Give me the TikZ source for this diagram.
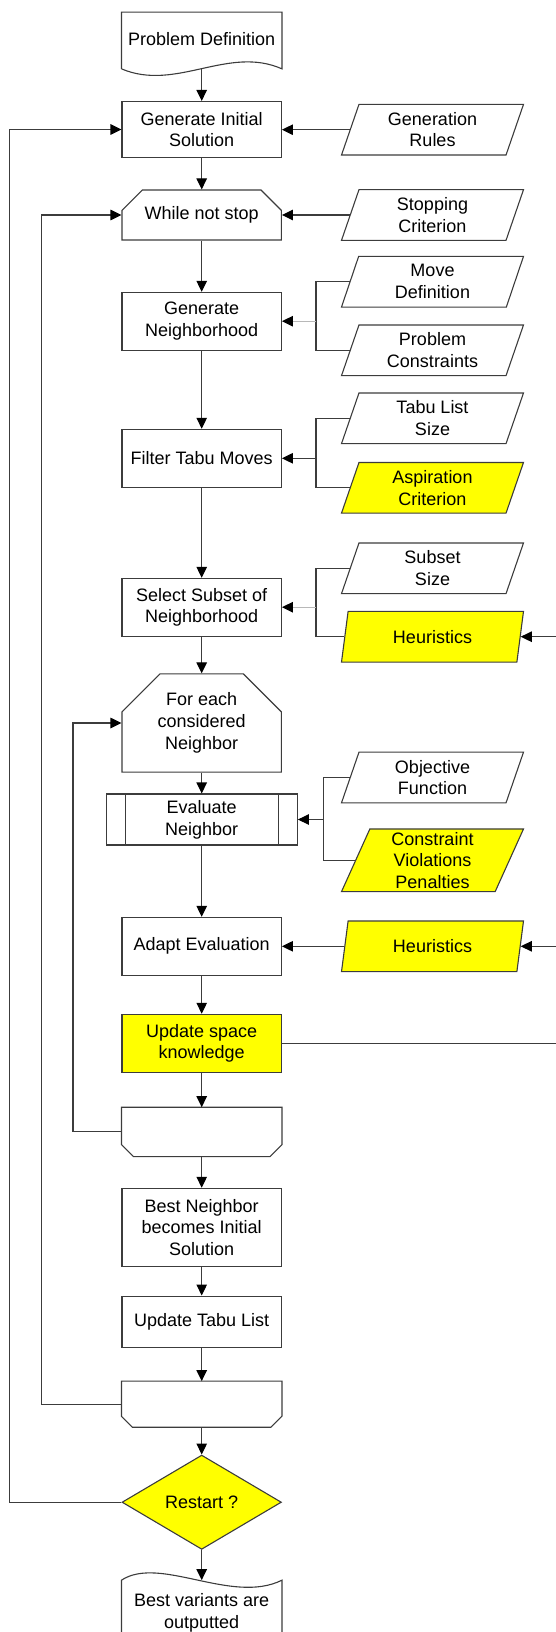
\documentclass[tikz,border=0pt]{standalone}
\usepackage{fontspec}
\setmainfont{Liberation Sans}
\usepackage{tikz}
\usetikzlibrary{arrows.meta}
\usetikzlibrary{shapes.geometric}
\usetikzlibrary{shapes.misc}
\definecolor{edgegray}{HTML}{3C3C3C}
\definecolor{paleline}{HTML}{B8B8B8}
\definecolor{hotyellow}{HTML}{FFFF00}
\tikzset {
  x=1pt, y=-1pt,
  % every box of the flow chart
  base/.style = {draw=edgegray, line width=1.1pt, align=center, inner sep=0pt,
    font=\fontsize{18pt}{21.7pt}\selectfont},
  process/.style = {base, rectangle, minimum width=159.4pt},
  % loop start, the loop end outline is drawn by hand
  loopstart/.style = {base, chamfered rectangle,
    chamfered rectangle corners={north west, north east}, minimum width=159.4pt},
  loopend/.style = {base, draw=none, rectangle, minimum width=159.4pt},
  % inputs on the right
  data/.style = {base, trapezium, trapezium left angle=63.4, trapezium right angle=116.6,
    trapezium stretches body=true, minimum width=182pt, minimum height=50.7pt},
  decision/.style = {base, diamond, minimum width=159.4pt, minimum height=94.3pt},
  % outline of the document shapes is drawn by hand
  docu/.style = {base, draw=none, rectangle, minimum width=159.4pt},
  hot/.style = {fill=hotyellow},
  % connectors
  flow/.style = {draw=edgegray, line width=1.1pt, -{Triangle[length=11pt, width=10.5pt, color=black]}},
  pale/.style = {draw=paleline, line width=1.1pt, -{Triangle[length=11pt, width=10.5pt, color=black]}},
  bus/.style = {draw=edgegray, line width=1.1pt},
}
\begin{document}
\begin{tikzpicture}
  \useasboundingbox (0,0) rectangle (556,1632);
  \clip (0,0) rectangle (556,1632);

  % main column
  \node[docu, minimum height=55.6pt] (pd) at (201.7,40.5) {\raisebox{4pt}{Problem Definition}};
  \draw[bus] (pd.south west) -- (pd.north west) -- (pd.north east) -- (pd.south east)
    .. controls (228,45) and (176,92) .. (pd.south west);
  \node[process, minimum height=56pt] (gi) at (201.7,129.5) {Generate Initial\\Solution};
  \node[loopstart, minimum height=50pt, chamfered rectangle sep=12pt] (wh) at (201.7,215) {While not stop};
  \node[process, minimum height=57.7pt] (gn) at (201.7,321.2) {Generate\\Neighborhood};
  \node[process, minimum height=58pt] (ft) at (201.7,458.3) {Filter Tabu Moves};
  \node[process, minimum height=57.7pt] (se) at (201.7,607.2) {Select Subset of\\Neighborhood};
  \node[loopstart, minimum height=79.4pt, chamfered rectangle sep=19pt] (fe) at (201.7,723) {For each\\considered\\Neighbor};
  \node[process, minimum width=191.3pt, minimum height=51pt] (ev) at (201.7,819.5) {Evaluate\\Neighbor};
  \draw[bus] ([xshift=19.7pt]ev.north west) -- ([xshift=19.7pt]ev.south west);
  \draw[bus] ([xshift=-19.7pt]ev.north east) -- ([xshift=-19.7pt]ev.south east);
  \node[process, minimum height=57.7pt] (ad) at (201.7,946.2) {Adapt Evaluation};
  \node[process, hot, minimum height=58pt] (up) at (201.7,1043.3) {Update space\\knowledge};
  \node[loopend, minimum height=48.3pt] (le1) at (201.7,1131.9) {};
  \draw[bus] (le1.north west) -- (le1.north east) -- ([yshift=12pt]le1.south east)
    -- ([xshift=-12pt]le1.south east) -- ([xshift=12pt]le1.south west)
    -- ([yshift=12pt]le1.south west) -- cycle;
  \node[process, minimum height=78.4pt] (bn) at (201.7,1227.5) {Best Neighbor\\becomes Initial\\Solution};
  \node[process, minimum height=51.7pt] (ut) at (201.7,1321.9) {Update Tabu List};
  \node[loopend, minimum height=45pt] (le2) at (201.7,1404.2) {};
  \draw[bus] (le2.north west) -- (le2.north east) -- ([yshift=11pt]le2.south east)
    -- ([xshift=-11pt]le2.south east) -- ([xshift=11pt]le2.south west)
    -- ([yshift=11pt]le2.south west) -- cycle;
  \node[decision, hot] (rs) at (201.7,1502.2) {Restart ?};
  \node[docu, minimum height=64.6pt] (bv) at (201.7,1613) {Best variants are\\outputted};
  \draw[bus] (bv.north west) .. controls (160,1555) and (232,1605) .. (bv.north east)
    -- (bv.south east) -- (bv.south west) -- cycle;

  % inputs
  \node[data] (gr) at (432.5,129.7) {Generation\\Rules};
  \node[data] (sc) at (432.5,215) {Stopping\\Criterion};
  \node[data] (md) at (432.5,281.7) {Move\\Definition};
  \node[data] (pc) at (432.5,350.3) {Problem\\Constraints};
  \node[data] (tl) at (432.5,418.3) {Tabu List\\Size};
  \node[data, hot] (ac) at (432.5,487.8) {Aspiration\\Criterion};
  \node[data] (ss) at (432.5,568.3) {Subset\\Size};
  \node[data, hot] (h1) at (432.5,636.7) {Heuristics};
  \node[data] (of) at (432.5,777.5) {Objective\\Function};
  \node[data, hot, minimum height=62.7pt] (cv) at (432.5,860.3) {Constraint\\Violations\\Penalties};
  \node[data, hot] (h2) at (432.5,946.3) {Heuristics};

  % main flow
  \draw[flow] (pd.south) -- (gi.north);
  \draw[flow] (gi.south) -- (wh.north);
  \draw[flow] (wh.south) -- (gn.north);
  \draw[flow] (gn.south) -- (ft.north);
  \draw[flow] (ft.south) -- (se.north);
  \draw[flow] (se.south) -- (fe.north);
  \draw[flow] (fe.south) -- (ev.north);
  \draw[flow] (ev.south) -- (ad.north);
  \draw[flow] (ad.south) -- (up.north);
  \draw[flow] (up.south) -- (le1.north);
  \draw[flow] (le1.south) -- (bn.north);
  \draw[flow] (bn.south) -- (ut.north);
  \draw[flow] (ut.south) -- (le2.north);
  \draw[flow] (le2.south) -- (rs.north);
  \draw[flow] (rs.south) -- (bv.north);

  % loops back on the left
  \draw[flow] (le1.west) -- ++(-48.5,0) |- (fe.west);
  \draw[flow] (le2.west) -- ++(-79.7,0) |- (wh.west);
  \draw[flow] (rs.west) -- ++(-111.7,0) |- (gi.west);

  % inputs into the steps
  \draw[flow] (gr.left side) -- (gr.left side -| gi.east);
  \draw[flow] (sc.left side) -- (sc.left side -| wh.east);
  \coordinate (gnj) at (316,321.2);
  \draw[bus] (md.left side) -| (gnj) |- (pc.left side);
  \draw[pale] (gnj) -- (gn.east);
  \coordinate (ftj) at (316,458.3);
  \draw[bus] (tl.left side) -| (ftj) |- (ac.left side);
  \draw[flow] (ftj) -- (ft.east);
  \coordinate (sej) at (316,607.2);
  \draw[bus] (ss.left side) -| (sej) |- (h1.left side);
  \draw[pale] (sej) -- (se.east);
  \coordinate (evj) at (323.3,819.5);
  \draw[bus] (of.left side) -| (evj) |- (cv.left side);
  \draw[flow] (evj) -- (ev.east);
  \draw[flow] (h2.left side) -- (h2.left side -| ad.east);

  % knowledge fed back to the heuristics
  \coordinate (rb) at (570,1043.3);
  \draw[bus] (up.east) -- (rb);
  \draw[flow] (rb) |- (h2.right side);
  \draw[flow] (rb) |- (h1.right side);
\end{tikzpicture}
\end{document}
